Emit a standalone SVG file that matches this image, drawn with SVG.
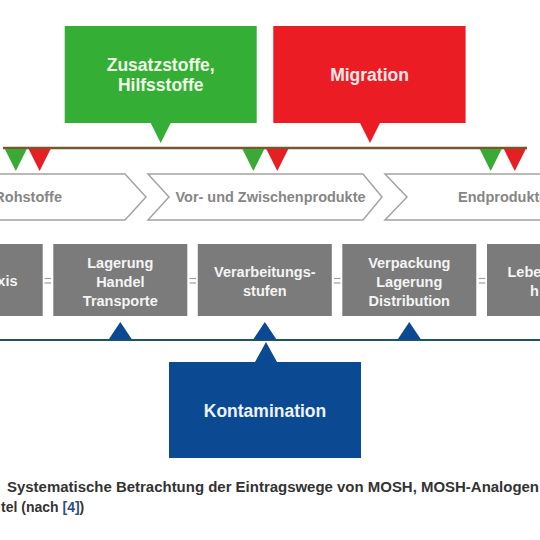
<svg xmlns="http://www.w3.org/2000/svg" width="540" height="540" viewBox="0 0 540 540">
<style>
.bt{font-family:"Liberation Sans",Arial,sans-serif;font-weight:bold;font-size:17.5px;text-anchor:middle}
.ch{fill:#fff;stroke:#a3a3a3;stroke-width:1.5}
.cht{font-family:"Liberation Sans",Arial,sans-serif;font-weight:bold;font-size:14.5px;fill:#868686}
.gb{fill:#7b7b7b}
.gt{font-family:"Liberation Sans",Arial,sans-serif;font-weight:bold;font-size:14.5px;fill:#f4f4f4;text-anchor:middle}
.eq{stroke:#a0a0a0;stroke-width:1.2}
.tg{fill:#3aa935}
.tr{fill:#e52025}
.tb{fill:#0b4a93}
.cap{font-family:"Liberation Sans",Arial,sans-serif;font-weight:bold;font-size:14px;fill:#333}
</style>
<rect width="540" height="540" fill="#fff"/>
<g id="connectors">
<line x1="3" y1="148" x2="527" y2="148" stroke="#75592a" stroke-width="2.5"/>
<polygon class="tg" points="4.8,149 26.8,149 15.8,171"/>
<polygon class="tr" points="28.6,149 50.6,149 39.6,171"/>
<polygon class="tg" points="242.4,149 264.4,149 253.4,171"/>
<polygon class="tr" points="266.3,149 288.3,149 277.3,171"/>
<polygon class="tg" points="479.7,149 501.7,149 490.7,171"/>
<polygon class="tr" points="503.8,149 525.8,149 514.8,171"/>
<line x1="0" y1="340" x2="540" y2="340" stroke="#1f5560" stroke-width="2"/>
<polygon class="tb" points="120.3,322 108.6,339.5 132,339.5"/>
<polygon class="tb" points="264.8,322 253.1,339.5 276.5,339.5"/>
<polygon class="tb" points="409.3,322 397.6,339.5 421,339.5"/>
<g class="eq">
<line x1="44.5" y1="278.5" x2="51" y2="278.5"/><line x1="44.5" y1="283" x2="51" y2="283"/>
<line x1="189.5" y1="278.5" x2="196" y2="278.5"/><line x1="189.5" y1="283" x2="196" y2="283"/>
<line x1="334" y1="278.5" x2="340.5" y2="278.5"/><line x1="334" y1="283" x2="340.5" y2="283"/>
<line x1="478.8" y1="278.5" x2="485.3" y2="278.5"/><line x1="478.8" y1="283" x2="485.3" y2="283"/>
</g>
</g>
<g id="zusatzstoffe">
<path d="M64.7,26 H256.7 V123 H170.7 L160.7,143 L150.7,123 H64.7 Z" fill="#35ae35"/>
<text class="bt" x="160.7" y="71" fill="#effbe9">Zusatzstoffe,</text>
<text class="bt" x="160.7" y="91" fill="#effbe9">Hilfsstoffe</text>
</g>
<g id="migration">
<path d="M273.3,26 H465.6 V123 H380 L370,143 L360,123 H273.3 Z" fill="#ec1c24"/>
<text class="bt" x="369.5" y="81" fill="#fbe9ea">Migration</text>
</g>
<g id="rohstoffe">
<polygon class="ch" points="-10,174 125,174 146,197 125,220 -10,220"/>
<text class="cht" x="62" y="202" text-anchor="end">Rohstoffe</text>
</g>
<g id="zwischenprodukte">
<polygon class="ch" points="148,174 363,174 382,197 363,220 148,220 169,197"/>
<text class="cht" x="175.5" y="202" textLength="190" lengthAdjust="spacingAndGlyphs">Vor- und Zwischenprodukte</text>
</g>
<g id="endprodukte">
<polygon class="ch" points="385,174 560,174 560,220 385,220 407,197"/>
<text class="cht" x="458" y="202">Endprodukte</text>
</g>
<g id="box1">
<rect class="gb" x="-91" y="244" width="133.7" height="72"/>
<text class="gt" x="17.5" y="286" text-anchor="end" style="text-anchor:end">xis</text>
</g>
<g id="lagerung-handel">
<rect class="gb" x="53.3" y="244" width="134" height="72"/>
<text class="gt" x="120.3" y="268">Lagerung</text>
<text class="gt" x="120.3" y="287">Handel</text>
<text class="gt" x="120.3" y="306">Transporte</text>
</g>
<g id="verarbeitung">
<rect class="gb" x="197.8" y="244" width="134" height="72"/>
<text class="gt" x="264.8" y="277">Verarbeitungs-</text>
<text class="gt" x="264.8" y="296">stufen</text>
</g>
<g id="verpackung">
<rect class="gb" x="342.3" y="244" width="134" height="72"/>
<text class="gt" x="409.3" y="268">Verpackung</text>
<text class="gt" x="409.3" y="287">Lagerung</text>
<text class="gt" x="409.3" y="306">Distribution</text>
</g>
<g id="box5">
<rect class="gb" x="487" y="244" width="134" height="72"/>
<text class="gt" x="507.5" y="277" style="text-anchor:start">Lebe</text>
<text class="gt" x="530" y="296" style="text-anchor:start">h</text>
</g>
<g id="kontamination">
<path d="M169,362 H255 L266,342 L277,362 H361 V458 H169 Z" fill="#0b4a93"/>
<text class="bt" x="265" y="417" fill="#eef2fa">Kontamination</text>
</g>
<g id="caption">
<text class="cap" x="7" y="492" textLength="532" lengthAdjust="spacingAndGlyphs">Systematische Betrachtung der Eintragswege von MOSH, MOSH-Analogen</text>
<text class="cap" x="1" y="512">tel (nach <tspan fill="#2f4f7f">[4]</tspan>)</text>
</g>
</svg>
